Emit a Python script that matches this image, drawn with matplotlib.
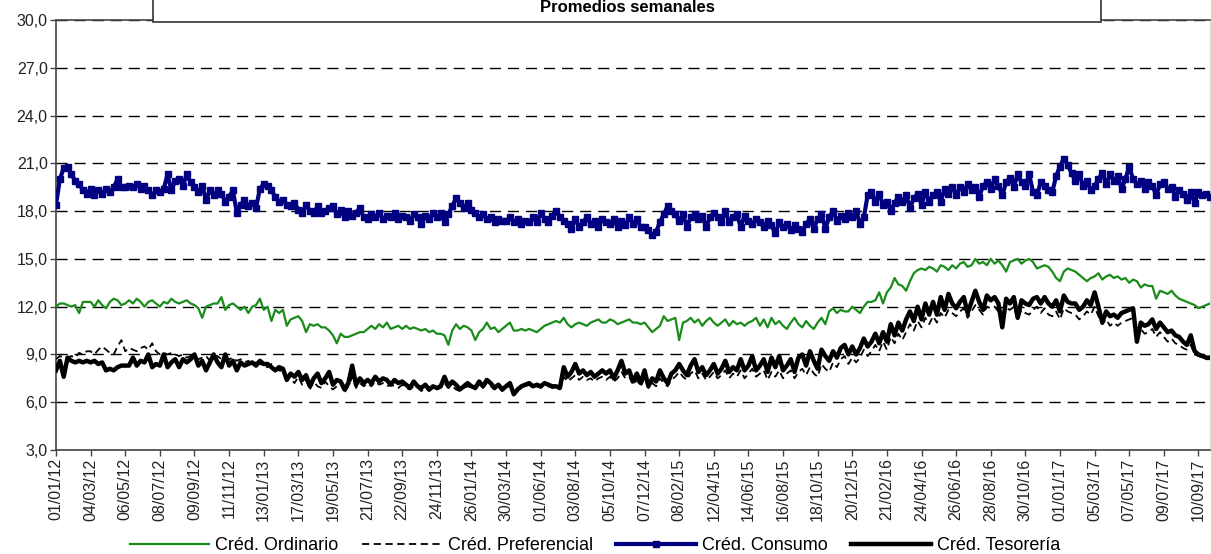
import matplotlib
matplotlib.use("Agg")
import matplotlib.pyplot as plt
import numpy as np
import pandas as pd
from matplotlib.patches import Rectangle

plt.rcParams['font.family'] = ['Liberation Sans', 'DejaVu Sans']

# weekly averages, first week 01/01/12
start_date = "2012-01-01"

consumo = [
    18.4, 20.0, 20.7, 20.8, 20.3, 19.9, 19.7, 19.3, 19.1,
    19.4, 19.0, 19.3, 19.1, 19.4, 19.2, 19.5, 20.0, 19.5,
    19.5, 19.6, 19.5, 19.7, 19.4, 19.6, 19.3, 19.0, 19.3,
    19.2, 19.4, 20.3, 19.3, 19.9, 20.0, 19.6, 20.3, 19.8,
    19.5, 19.2, 19.6, 18.7, 19.3, 19.0, 19.3, 19.1, 18.6,
    18.9, 19.3, 17.9, 18.4, 18.7, 18.3, 18.5, 18.2, 19.4,
    19.7, 19.6, 19.3, 18.9, 18.6, 18.7, 18.4, 18.3, 18.5,
    18.1, 17.9, 18.4, 18.0, 17.9, 18.3, 17.9, 18.0, 18.2,
    18.3, 17.8, 18.1, 17.6, 18.0, 17.7, 17.9, 18.2, 17.6,
    17.5, 17.8, 17.6, 17.9, 17.5, 17.7, 17.6, 17.9, 17.5,
    17.7, 17.6, 17.4, 17.8, 17.6, 17.2, 17.7, 17.5, 17.9,
    17.6, 17.9, 17.3, 17.8, 18.3, 18.8, 18.5, 18.2, 18.5,
    18.1, 17.9, 17.6, 17.8, 17.5, 17.6, 17.3, 17.5, 17.4,
    17.4, 17.6, 17.3, 17.5, 17.2, 17.4, 17.3, 17.6, 17.3,
    17.9, 17.5, 17.3, 17.7, 18.0, 17.6, 17.4, 17.2, 16.9,
    17.5, 17.0, 17.3, 17.6, 17.2, 17.4, 17.0, 17.5, 17.3,
    17.2, 17.5, 17.0, 17.4, 17.1, 17.6, 17.2, 17.5, 17.0,
    17.0, 16.8, 16.5, 16.7, 17.3, 17.8, 18.3, 18.0, 17.8,
    17.4, 17.8, 17.0, 17.6, 17.8, 17.5, 17.7, 17.0, 17.6,
    17.9, 17.6, 17.3, 18.0, 17.3, 17.6, 17.8, 17.0, 17.7,
    17.4, 17.2, 17.5, 17.3, 17.0, 17.4, 17.1, 16.6, 17.3,
    17.0, 17.2, 16.8, 17.1, 16.9, 16.7, 17.2, 17.5, 16.9,
    17.5, 17.8, 16.9, 17.6, 18.0, 17.4, 17.7, 17.5, 17.9,
    17.6, 18.0, 17.2, 17.6, 19.0, 19.2, 18.6, 19.1, 18.4,
    18.6, 18.0, 18.5, 18.9, 18.6, 19.0, 18.2, 18.8, 19.1,
    18.4, 19.2, 18.6, 19.0, 19.2, 18.6, 19.4, 19.1, 19.5,
    19.0, 19.5, 19.2, 19.7, 19.3, 19.5, 18.9, 19.6, 19.8,
    19.4, 20.0, 19.6, 19.0, 19.8, 20.1, 19.5, 20.3, 19.8,
    19.6, 20.3, 19.2, 19.0, 19.8, 19.6, 19.3, 19.2, 20.2,
    20.8, 21.3, 20.9, 20.4, 19.9, 20.3, 19.6, 19.9, 19.3,
    19.6, 20.0, 20.4, 19.7, 20.3, 19.9, 20.2, 19.4, 20.0,
    20.8, 20.0, 19.7, 19.9, 19.4, 19.8, 19.6, 19.0, 19.7,
    19.8, 19.4, 19.5, 18.9, 19.3, 19.1, 18.7, 19.2, 18.5,
    19.2, 19.0, 19.1, 18.9,
]

ordinario = [
    12.0, 12.2, 12.2, 12.1, 12.0, 12.1, 11.6, 12.3, 12.3,
    12.3, 12.0, 12.4, 12.1, 11.9, 12.3, 12.5, 12.4, 12.1,
    12.2, 12.4, 12.2, 12.5, 12.3, 12.0, 12.3, 12.4, 12.2,
    12.0, 12.3, 12.2, 12.5, 12.3, 12.2, 12.3, 12.4, 12.2,
    12.1, 11.9, 11.3, 12.0, 12.1, 12.2, 12.2, 12.6, 11.8,
    12.1, 12.2, 12.0, 11.8, 12.0, 11.6, 12.0, 12.1, 12.5,
    11.8, 12.0, 11.1, 11.8, 11.6, 11.8, 10.8, 11.2, 11.3,
    11.4, 11.1, 10.4, 10.9, 10.8, 10.9, 10.7, 10.7, 10.5,
    10.2, 9.7, 10.3, 10.1, 10.1, 10.2, 10.3, 10.4, 10.4,
    10.6, 10.8, 10.6, 10.9, 10.7, 11.0, 10.6, 10.7, 10.8,
    10.6, 10.8, 10.6, 10.7, 10.6, 10.5, 10.6, 10.4, 10.5,
    10.3, 10.3, 10.2, 9.6, 10.5, 10.9, 10.6, 10.8, 10.7,
    10.5, 9.9, 10.4, 10.6, 11.0, 10.6, 10.7, 10.4, 10.6,
    10.8, 11.0, 10.5, 10.5, 10.6, 10.5, 10.6, 10.5, 10.4,
    10.6, 10.8, 10.9, 11.0, 11.1, 11.0, 11.3, 10.9, 10.7,
    10.9, 11.0, 10.9, 10.8, 11.0, 11.1, 11.2, 11.0, 11.0,
    11.2, 11.1, 10.9, 11.0, 11.1, 11.2, 11.0, 11.0, 10.9,
    11.0, 10.7, 10.4, 10.6, 10.8, 11.4, 11.1, 11.2, 11.3,
    9.9, 11.0, 11.1, 11.3, 11.0, 11.2, 10.8, 11.1, 11.3,
    11.0, 10.8, 11.0, 11.2, 10.8, 11.1, 10.9, 11.0, 10.8,
    11.0, 11.1, 11.3, 10.8, 11.2, 10.7, 11.3, 10.9, 11.1,
    10.8, 10.6, 11.0, 11.3, 10.9, 10.7, 11.1, 10.8, 10.6,
    11.0, 11.3, 10.9, 11.7, 11.9, 11.6, 11.8, 11.7, 11.7,
    12.0, 11.8, 11.6, 12.0, 12.3, 12.3, 12.4, 12.9, 12.2,
    12.9, 13.2, 13.8, 13.4, 13.3, 13.0, 13.6, 14.1, 14.3,
    14.4, 14.3, 14.5, 14.4, 14.2, 14.6, 14.5, 14.3, 14.6,
    14.4, 14.7, 14.8, 14.5, 14.6, 15.0, 14.7, 14.8, 14.6,
    15.0, 14.7, 14.9, 14.6, 14.2, 14.8, 14.9, 15.0, 14.7,
    14.9, 15.0, 14.8, 14.4, 14.5, 14.6, 14.5, 14.2, 13.8,
    13.6, 14.2, 14.4, 14.3, 14.2, 14.0, 13.8, 13.6, 13.8,
    13.9, 14.1, 13.7, 13.9, 14.0, 13.8, 13.9, 13.7, 13.8,
    13.5, 13.7, 13.6, 13.2, 13.4, 13.3, 13.3, 12.5, 13.0,
    12.9, 12.8, 13.0, 12.7, 12.5, 12.4, 12.3, 12.2, 12.1,
    11.9, 12.0, 12.1, 12.2,
]

preferencial = [
    8.7, 8.9, 8.8, 8.8, 8.9, 8.8, 9.1, 9.0, 9.2,
    9.2, 9.0, 9.3, 9.5, 9.3, 9.1, 9.0, 9.5, 9.9,
    9.2, 9.4, 9.3, 9.2, 9.4, 9.5, 9.3, 9.7, 9.2,
    9.0, 9.1, 9.0, 9.1, 9.0, 8.9, 9.0, 8.8, 8.9,
    8.9, 8.7, 8.8, 8.9, 8.6, 8.8, 8.9, 8.7, 8.8,
    8.7, 8.8, 8.6, 8.7, 8.5, 8.6, 8.4, 8.5, 8.4,
    8.3, 8.2, 8.4, 8.1, 8.0, 7.9, 7.6, 7.5, 7.2,
    7.6, 7.1, 7.4, 6.8, 7.3, 7.0, 6.9, 7.3, 7.0,
    6.8, 7.0, 7.2, 6.6, 7.0, 7.6, 6.9, 7.2, 7.0,
    7.2, 7.0, 7.3, 7.1, 7.2, 7.0, 7.1, 7.0, 6.9,
    7.1, 6.9, 6.8, 7.0, 6.9, 6.7, 6.9, 6.7, 6.9,
    6.8, 6.9, 7.2, 6.9, 7.0, 6.8, 6.7, 6.9, 7.0,
    6.9, 6.8, 7.1, 6.9, 7.2, 7.0, 6.8, 7.0, 6.7,
    6.9, 7.0, 6.6, 6.8, 6.9, 7.0, 7.1, 6.9, 7.0,
    6.9, 7.0, 7.0, 6.9, 6.9, 6.8, 7.6, 7.3, 7.5,
    7.7, 7.4, 7.6, 7.4, 7.5, 7.3, 7.5, 7.6, 7.4,
    7.6, 7.3, 7.5, 7.9, 7.5, 7.6, 7.1, 7.4, 7.0,
    7.5, 6.9, 7.2, 7.0, 7.5, 7.2, 7.0, 7.4, 7.6,
    7.9, 7.6, 7.4, 7.8, 8.0, 7.5, 7.8, 7.4, 7.6,
    7.9, 7.5, 7.7, 8.0, 7.5, 7.8, 7.6, 8.0, 7.5,
    7.8, 8.1, 7.6, 7.8, 8.0, 7.4, 7.9, 7.6, 8.0,
    7.5, 7.8, 8.0, 7.5, 7.9, 8.1, 7.7, 8.2, 7.8,
    7.6, 8.4, 8.1, 7.9, 8.5, 8.2, 8.7, 8.9, 8.4,
    8.8, 8.5, 8.8, 9.3, 8.9, 9.2, 9.6, 9.2, 9.8,
    9.3, 10.1, 9.7, 10.3, 9.9, 10.4, 10.9, 10.5, 11.1,
    10.7, 11.3, 10.9, 11.4, 11.0, 11.6, 11.3, 11.8, 11.6,
    11.4, 11.7, 11.9, 11.3, 11.7, 12.1, 11.8, 11.5, 12.0,
    11.9, 12.0, 11.7, 11.4, 11.9, 11.8, 12.0, 11.2, 11.8,
    11.6, 11.5, 11.8, 12.0, 11.6, 11.9, 11.5, 11.4, 11.7,
    11.2, 11.9, 11.7, 11.6, 11.5, 11.2, 11.4, 11.7, 11.5,
    12.0, 11.4, 10.9, 11.2, 10.8, 11.0, 10.8, 11.0, 11.1,
    11.2, 11.3, 10.2, 10.6, 10.3, 10.4, 10.6, 10.1, 10.4,
    10.1, 9.8, 10.0, 9.7, 9.6, 9.4, 9.3, 9.6, 9.0,
    8.9, 8.8, 8.7, 8.7,
]

tesoreria = [
    8.0, 8.6, 7.6, 8.8, 8.6, 8.5, 8.6, 8.5, 8.6,
    8.5, 8.6, 8.4, 8.5, 8.0, 8.1, 8.0, 8.2, 8.3,
    8.3, 8.3, 8.8, 8.3, 8.6, 8.5, 9.0, 8.2, 8.4,
    8.3, 9.0, 8.2, 8.5, 8.7, 8.2, 8.7, 8.5, 8.7,
    9.0, 8.3, 8.6, 8.0, 8.5, 9.0, 8.5, 8.2, 9.0,
    8.3, 8.6, 8.0, 8.5, 8.3, 8.4, 8.5, 8.3, 8.6,
    8.4, 8.4, 8.2, 8.0, 8.2, 8.1, 7.4, 7.8, 7.6,
    7.9, 7.4, 7.7, 7.0, 7.5, 7.8, 7.2, 7.5, 7.9,
    7.1, 7.4, 7.3, 6.8, 7.2, 8.3, 7.1, 7.5, 7.2,
    7.4, 7.2, 7.6, 7.3, 7.5, 7.4, 7.1, 7.4, 7.2,
    7.3, 7.1, 6.9, 7.3, 7.0, 6.9, 7.1, 6.8, 7.0,
    6.9, 7.0, 7.6, 7.0, 7.3, 7.1, 6.8, 7.0, 7.2,
    7.0, 6.9, 7.3, 7.0, 7.4, 7.2, 6.9, 7.1, 6.8,
    7.0, 7.2, 6.5, 6.8, 7.0, 7.1, 7.2, 7.0, 7.1,
    7.0, 7.2, 7.1, 7.0, 7.0, 6.9, 8.2, 7.6, 7.9,
    8.4, 7.8, 8.0, 7.7, 7.9, 7.6, 7.8, 8.0, 7.8,
    8.0, 7.5, 8.0, 8.6, 7.8, 8.0, 7.3, 7.8, 7.2,
    8.0, 7.0, 7.5, 7.3, 8.0, 7.5, 7.2, 7.8, 8.0,
    8.4, 8.0, 7.7, 8.3, 8.7, 7.9, 8.2, 7.7, 8.0,
    8.4, 7.8, 8.1, 8.6, 7.9, 8.2, 8.0, 8.7, 8.0,
    8.3, 8.9, 8.0, 8.3, 8.7, 7.9, 8.8, 8.2, 8.9,
    8.0, 8.3, 8.7, 7.9, 8.8, 9.0, 8.3, 9.2, 8.6,
    8.1, 9.3, 8.9, 8.6, 9.2, 8.8, 9.4, 9.6, 9.0,
    9.5, 9.0, 9.4, 10.0, 9.5, 9.8, 10.3, 9.7, 10.4,
    9.8, 10.9, 10.2, 11.0, 10.5, 11.2, 11.7, 11.1, 12.0,
    11.2, 12.2, 11.5, 12.3, 11.5, 12.6, 11.8, 12.8, 12.2,
    11.9, 12.3, 12.6, 11.6, 12.3, 13.0, 12.3, 11.8, 12.7,
    12.4, 12.6, 12.2, 10.7, 12.5, 12.2, 12.6, 11.3, 12.4,
    12.2, 12.1, 12.5, 12.6, 12.2, 12.6, 12.2, 12.0, 12.4,
    11.7, 12.7, 12.3, 12.2, 12.2, 11.8, 12.0, 12.4, 12.1,
    12.9, 12.0, 11.0, 11.7, 11.4, 11.5, 11.3, 11.6, 11.7,
    11.8, 11.9, 9.8, 11.0, 10.8, 10.9, 11.2, 10.6, 11.0,
    10.7, 10.4, 10.5, 10.2, 10.1, 9.8, 9.6, 10.2, 9.2,
    9.0, 8.9, 8.8, 8.8,
]

labels = ["Créd. Ordinario", "Créd. Preferencial", "Créd. Consumo", "Créd. Tesorería"]

dates = pd.date_range(start_date, periods=len(consumo), freq="7D")
x = np.arange(len(dates))
tick_idx = x[::9]
tick_labels = [d.strftime("%d/%m/%y") for d in dates[tick_idx]]

fig = plt.figure(figsize=(12.11, 5.54), dpi=100)
ax = fig.add_axes([56/1211, 1 - 450/554, 1154/1211, 430/554])

ax.plot(x, ordinario, color="#1a8c1a", lw=1.6, label=labels[0], zorder=3)
ax.plot(x, preferencial, color="black", lw=1.3, ls=(0, (4, 2.5)), label=labels[1], zorder=3)
ax.plot(x, consumo, color="#000080", lw=3, marker="s", ms=4.5, label=labels[2], zorder=4)
ax.plot(x, tesoreria, color="black", lw=3.2, label=labels[3], zorder=5)

yt = np.arange(3, 31, 3)
ax.set_xlim(0, len(x) - 1)
ax.set_ylim(3, 30)
ax.set_yticks(yt)
ax.set_yticklabels([f"{v:.1f}".replace(".", ",") for v in yt])
ax.set_xticks(tick_idx)
ax.set_xticklabels(tick_labels, rotation=90)
ax.tick_params(axis="both", labelsize=11.5, colors="#444444", labelcolor="#222222",
               length=4, width=1, pad=2)

ax.yaxis.grid(True, color="black", lw=1, ls=(0, (8, 5)))
ax.set_axisbelow(True)
for s in ["left", "bottom", "top"]:
    ax.spines[s].set_color("#444444")
    ax.spines[s].set_linewidth(1.2)
ax.spines["right"].set_color("#dddddd")

# title box, cut at the top edge like the source
fig.patches.append(Rectangle((153/1211, 1 - 22/554), (1101 - 153)/1211, 40/554,
                             transform=fig.transFigure, facecolor="white",
                             edgecolor="#333333", lw=1.2, zorder=10))
fig.text(627/1211, 1 - 7/554, "Promedios semanales", ha="center", va="center",
         fontsize=12, fontweight="bold", zorder=11)

fig.legend(loc="center", bbox_to_anchor=(595/1211, 1 - 546/554), ncol=4, frameon=False,
           fontsize=13, handlelength=4.4, columnspacing=1.3, handletextpad=0.35,
           borderaxespad=0)

fig.savefig("out.png", dpi=100)
